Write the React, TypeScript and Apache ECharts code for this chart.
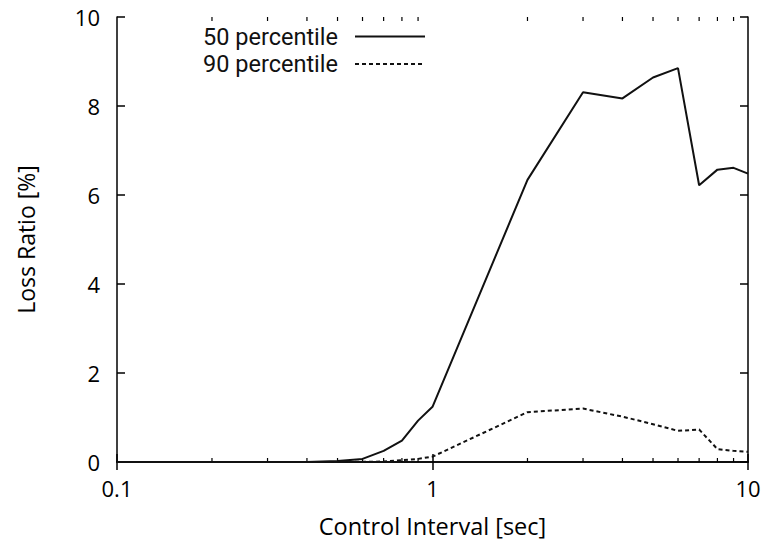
import React, { useEffect, useRef } from "react";
import * as echarts from "echarts";

const xValues = [0.1, 0.2, 0.3, 0.4, 0.5, 0.6, 0.7, 0.8, 0.9, 1, 2, 3, 4, 5, 6, 7, 8, 9, 10];
const p50 = [0, 0, 0, 0, 0.02, 0.07, 0.25, 0.48, 0.93, 1.24, 6.34, 8.31, 8.17, 8.64, 8.85, 6.22, 6.57, 6.61, 6.48];
const p90 = [0, 0, 0, 0, 0, 0.005, 0.01, 0.04, 0.07, 0.12, 1.12, 1.2, 1.02, 0.85, 0.7, 0.73, 0.29, 0.25, 0.23];
const minorTicks = [0.2, 0.3, 0.4, 0.5, 0.6, 0.7, 0.8, 0.9, 2, 3, 4, 5, 6, 7, 8, 9];
const seriesNames = ["50 percentile", "90 percentile"];
const xTitle = "Control Interval [sec]";
const yTitle = "Loss Ratio [%]";

const FONT = "Open Sans";
const LEGEND_FONT = "Roboto";

export default function App() {
  const ref = useRef<HTMLDivElement>(null);
  useEffect(() => {
    if (!ref.current) return;
    const chart = echarts.init(ref.current, undefined, { renderer: "svg" });
    const axisLineStyle = { color: "#000", width: 1.5 };
    chart.setOption({
      animation: false,
      backgroundColor: "#fff",
      grid: { left: 117, right: 20, top: 17, bottom: 84, show: false },
      legend: {
        data: seriesNames,
        orient: "vertical",
        align: "right",
        right: 342,
        top: 24.5,
        padding: 0,
        itemWidth: 70,
        itemHeight: 20,
        itemGap: 3.5,
        itemStyle: { opacity: 0 },
        textStyle: {
          fontFamily: LEGEND_FONT,
          fontSize: 23.5,
          lineHeight: 24,
          color: "#111",
          padding: [0, 12, 0, 0],
        },
      },
      xAxis: [
        {
          type: "log",
          logBase: 10,
          min: 0.1,
          max: 10,
          position: "bottom",
          name: xTitle,
          nameLocation: "middle",
          nameGap: 52,
          nameTextStyle: { fontFamily: FONT, fontSize: 23.5, color: "#000" },
          axisLine: { show: true, lineStyle: axisLineStyle },
          axisTick: { show: true, inside: true, length: 8, lineStyle: axisLineStyle },
          axisLabel: { fontFamily: FONT, fontSize: 22, color: "#000", margin: 15 },
          splitLine: { show: false },
        },
        {
          type: "log",
          logBase: 10,
          min: 0.1,
          max: 10,
          position: "top",
          axisLine: { show: true, lineStyle: axisLineStyle },
          axisTick: { show: true, inside: true, length: 8, lineStyle: axisLineStyle },
          axisLabel: { show: false },
          splitLine: { show: false },
        },
      ],
      yAxis: [
        {
          type: "value",
          min: 0,
          max: 10,
          interval: 2,
          position: "left",
          name: yTitle,
          nameLocation: "middle",
          nameGap: 80,
          nameTextStyle: { fontFamily: FONT, fontSize: 23, color: "#000" },
          axisLine: { show: true, lineStyle: axisLineStyle },
          axisTick: { show: true, inside: true, length: 8, lineStyle: axisLineStyle },
          axisLabel: { fontFamily: FONT, fontSize: 22, color: "#000", margin: 17 },
          splitLine: { show: false },
        },
        {
          type: "value",
          min: 0,
          max: 10,
          interval: 2,
          position: "right",
          axisLine: { show: true, lineStyle: axisLineStyle },
          axisTick: { show: true, inside: true, length: 8, lineStyle: axisLineStyle },
          axisLabel: { show: false },
          splitLine: { show: false },
        },
      ],
      series: [
        {
          name: seriesNames[0],
          type: "line",
          data: xValues.map((x, i) => [x, p50[i]]),
          symbol: "none",
          lineStyle: { color: "#111", width: 2, type: "solid" },
          itemStyle: { color: "#111" },
        },
        {
          name: seriesNames[1],
          type: "line",
          data: xValues.map((x, i) => [x, p90[i]]),
          symbol: "none",
          lineStyle: { color: "#111", width: 2, type: [4, 3] },
          itemStyle: { color: "#111" },
        },
        {
          name: "minorTicks",
          type: "custom",
          clip: false,
          silent: true,
          data: minorTicks.map((x) => [x]),
          renderItem: (params: any, api: any) => {
            const x = api.value(0);
            const b = api.coord([x, 0]);
            const t = api.coord([x, 10]);
            const st = { stroke: "#000", lineWidth: 1.2 };
            return {
              type: "group",
              children: [
                { type: "line", shape: { x1: b[0], y1: b[1], x2: b[0], y2: b[1] - 4 }, style: st },
                { type: "line", shape: { x1: t[0], y1: t[1], x2: t[0], y2: t[1] + 4 }, style: st },
              ],
            };
          },
        },
      ],
    });
    return () => chart.dispose();
  }, []);
  return <div ref={ref} style={{ width: 768, height: 546, position: "absolute", left: 0, top: 0 }} />;
}
